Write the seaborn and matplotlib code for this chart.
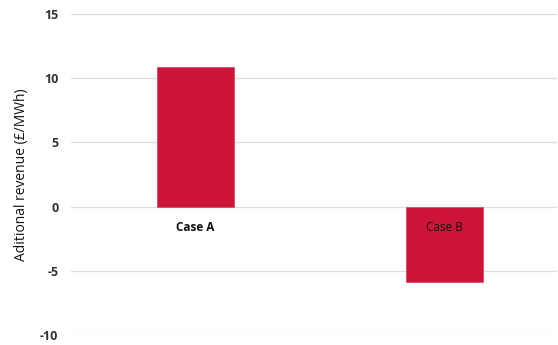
import matplotlib
matplotlib.use("Agg")
import matplotlib.pyplot as plt
import matplotlib.transforms as mtransforms
import seaborn as sns
import pandas as pd

categories = ["Case A", "Case B"]
values = [10.9, -5.9]
yticks = [-10, -5, 0, 5, 10, 15]

df = pd.DataFrame({"case": categories, "value": values})

sns.set_style("white")
plt.rcParams['font.family'] = ['Open Sans', 'DejaVu Sans']

fig = plt.figure(figsize=(5.58, 3.45), dpi=100)
ax = fig.add_axes([71/558, 1 - 335/345, (557-71)/558, (335-14)/345])

sns.barplot(data=df, x="case", y="value", color="#CC1439", width=0.31,
            saturation=1, ax=ax, edgecolor="#E04A68", linewidth=0.6, zorder=3)

ax.set_ylim(-10, 15)
ax.set_xlim(-0.5, 1.45)
ax.set_yticks(yticks)
ax.set_yticklabels([str(t) for t in yticks], fontsize=9, fontweight="bold", color="#333333")
ax.yaxis.grid(True, color="#DDDDDD", linewidth=0.9, zorder=0)
ax.set_axisbelow(True)
ax.tick_params(axis="y", length=0, pad=9)
ax.set_xticks([])
ax.set_xlabel("")
ax.set_ylabel("Aditional revenue (£/MWh)", fontsize=10, color="#111111", labelpad=8)
for s in ax.spines.values():
    s.set_visible(False)

offset = ax.transData + mtransforms.ScaledTranslation(0, -14/100, fig.dpi_scale_trans)
for i, (c, v) in enumerate(zip(categories, values)):
    ax.text(i, 0, c, ha="center", va="top", fontsize=8.5, color="#111111",
            fontweight="bold" if v >= 0 else "normal",
            transform=offset, zorder=5)

fig.savefig("out.png", dpi=100)
